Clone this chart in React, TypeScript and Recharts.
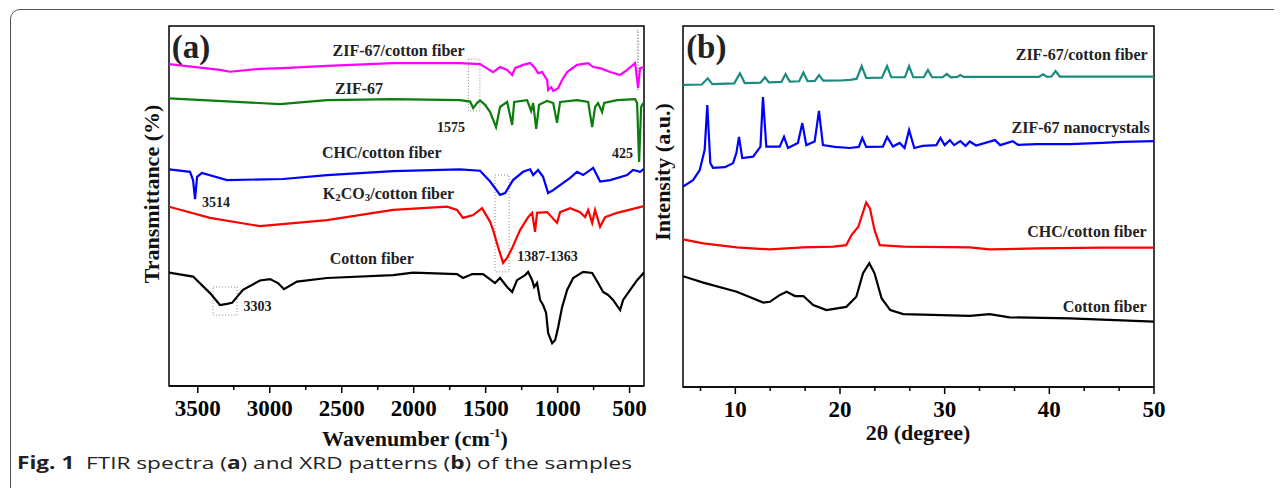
import React from "react";
import { LineChart, Line, XAxis, YAxis, ReferenceArea, ReferenceDot } from "recharts";

const SERIF = '"Liberation Serif", "Times New Roman", serif';

// FTIR spectra, [wavenumber cm-1, transmittance (a.u., offset per sample)]
const ftirZifCotton: [number, number][] = [
  [3700, 89.4], [3345, 87.8], [3276, 87.3], [3068, 88.1], [2908, 88.3], [2602, 88.9], [2143, 89.7],
  [1678, 89.7], [1539, 89.4], [1448, 87.2], [1400, 88.6], [1351, 87.8], [1316, 86.4], [1296, 88.3],
  [1240, 89.2], [1191, 89.7], [1157, 88.3], [1136, 86.9], [1108, 87.2], [1073, 85.0], [1066, 82.2],
  [1045, 83.0], [1030, 82.0], [1017, 82.2], [996, 82.8], [969, 85.0], [934, 87.2], [865, 89.2],
  [788, 89.7], [753, 88.6], [705, 88.3], [635, 87.2], [566, 86.4], [517, 87.8], [462, 89.7],
  [441, 82.8], [427, 88.3], [400, 88.6],
];
const ftirZif: [number, number][] = [
  [3700, 79.9], [2929, 78.3], [2602, 79.4], [2143, 79.7], [1678, 79.4], [1608, 79.0], [1587, 77.2],
  [1560, 78.6], [1539, 79.3], [1504, 78.1], [1469, 76.1], [1428, 71.9], [1400, 77.5], [1351, 78.9],
  [1316, 72.5], [1302, 78.9], [1212, 79.4], [1184, 76.4], [1170, 78.6], [1149, 71.4], [1129, 78.1],
  [1073, 79.2], [1031, 78.6], [1004, 73.1], [983, 78.9], [865, 79.4], [788, 78.9], [760, 71.9],
  [740, 77.5], [719, 78.6], [691, 76.1], [677, 78.6], [587, 79.4], [462, 79.7], [448, 78.6],
  [434, 62.2], [420, 77.5], [406, 78.6],
];
const ftirChc: [number, number][] = [
  [3700, 60.2], [3554, 59.5], [3533, 57.2], [3519, 51.9], [3505, 58.1], [3471, 59.2], [3297, 57.2],
  [2908, 57.5], [2602, 58.6], [2143, 59.7], [1678, 60.2], [1539, 59.8], [1469, 56.8], [1400, 53.1],
  [1365, 53.6], [1310, 57.2], [1240, 59.5], [1191, 60.2], [1170, 58.6], [1136, 60.0], [1101, 58.1],
  [1066, 53.6], [1031, 54.4], [983, 55.8], [913, 57.8], [865, 59.5], [823, 58.6], [753, 60.6],
  [705, 56.8], [635, 57.2], [517, 58.6], [476, 60.0], [427, 59.5], [400, 60.3],
];
const ftirK2co3: [number, number][] = [
  [3700, 49.8], [3415, 46.7], [3068, 44.4], [2602, 46.1], [2143, 48.9], [1768, 49.8], [1699, 48.9],
  [1657, 46.7], [1587, 47.5], [1525, 49.4], [1469, 45.6], [1448, 43.3], [1414, 38.6], [1379, 34.2],
  [1351, 35.6], [1316, 38.3], [1261, 43.3], [1205, 46.9], [1177, 48.1], [1157, 42.8], [1143, 48.1],
  [1073, 48.3], [1004, 45.3], [983, 48.3], [913, 49.4], [844, 48.3], [809, 46.9], [788, 48.9],
  [760, 45.3], [740, 48.9], [705, 44.2], [670, 46.9], [587, 48.1], [476, 49.2], [400, 50.0],
];
const ftirCotton: [number, number][] = [
  [3700, 31.5], [3533, 30.4], [3415, 25.8], [3346, 22.5], [3297, 22.8], [3262, 23.1], [3186, 26.7],
  [3068, 29.3], [2998, 29.7], [2943, 28.6], [2901, 26.9], [2811, 29.0], [2602, 30.0], [2143, 30.8],
  [2004, 31.5], [1699, 31.1], [1657, 30.0], [1594, 31.1], [1518, 31.1], [1435, 28.6], [1400, 30.0],
  [1351, 27.5], [1316, 26.1], [1282, 29.4], [1226, 30.8], [1205, 31.7], [1177, 29.4], [1163, 27.5],
  [1143, 28.6], [1122, 23.9], [1101, 22.5], [1080, 20.3], [1066, 14.7], [1038, 11.9], [1017, 12.8],
  [996, 16.4], [969, 21.9], [934, 26.7], [892, 30.0], [823, 31.7], [760, 31.4], [719, 28.6],
  [684, 26.1], [649, 25.3], [615, 23.9], [566, 21.1], [545, 23.9], [496, 26.7], [448, 29.4], [400, 31.5],
];

// XRD patterns, [2theta degree, intensity (a.u., offset per sample)]
const xrdZifCotton: [number, number][] = [
  [5, 83.7], [6.8, 83.8], [7.36, 85.5], [7.8, 83.9], [9.9, 84.1], [10.44, 86.9], [10.9, 84.2],
  [12.4, 84.3], [12.83, 85.8], [13.2, 84.4], [14.4, 84.5], [14.8, 86.7], [15.2, 84.6], [16.1, 84.7],
  [16.5, 87.1], [16.9, 84.7], [17.6, 84.8], [18.0, 86.4], [18.4, 84.85], [20, 84.9], [21.0, 85.1],
  [21.6, 85.4], [22.07, 88.9], [22.5, 85.6], [24.0, 85.7], [24.5, 88.9], [24.9, 85.8], [26.2, 85.8],
  [26.6, 88.9], [27.0, 85.8], [28.0, 85.8], [28.4, 87.8], [28.8, 85.8], [29.8, 85.8], [30.2, 86.7],
  [30.6, 85.8], [31.2, 85.9], [31.5, 86.4], [31.8, 85.9], [34, 85.9], [37, 85.9], [39.0, 85.9],
  [39.4, 86.6], [39.8, 85.9], [40.2, 86.0], [40.6, 87.5], [41.0, 86.0], [44, 86.0], [47, 86.0], [50, 86.0],
];
const xrdZif: [number, number][] = [
  [5.0, 55.5], [5.96, 57.3], [6.6, 60.1], [7.07, 65.7], [7.32, 78.1], [7.61, 62.0], [7.87, 60.7],
  [9.0, 60.9], [9.78, 62.0], [10.1, 64.8], [10.35, 69.3], [10.66, 63.4], [11.7, 63.8], [12.4, 66.6],
  [12.64, 80.3], [12.96, 66.6], [14.24, 66.6], [14.65, 69.3], [15.03, 66.2], [15.98, 67.6], [16.4, 73.1],
  [16.78, 67.0], [17.58, 68.0], [17.99, 76.5], [18.37, 67.0], [19.5, 66.5], [20.92, 66.2], [21.8, 66.5],
  [22.13, 69.0], [22.5, 66.5], [24.1, 66.6], [24.5, 69.3], [25.06, 66.6], [25.7, 67.6], [26.17, 66.2],
  [26.6, 71.2], [27.1, 66.2], [27.9, 66.8], [29.2, 67.0], [29.6, 69.0], [30.0, 67.0], [30.5, 68.4],
  [30.9, 67.0], [31.5, 68.1], [32.0, 66.8], [32.4, 68.0], [33.0, 66.9], [34.8, 68.4], [35.3, 67.0],
  [36.5, 68.1], [37.0, 67.1], [38.8, 67.3], [42.0, 67.3], [45.0, 67.6], [47.0, 67.9], [50.0, 68.1],
];
const xrdChc: [number, number][] = [
  [5.0, 40.9], [6.94, 39.8], [10.13, 38.7], [13.3, 38.1], [16.5, 38.7], [19.36, 38.9], [20.6, 39.3],
  [21.1, 42.1], [21.75, 44.4], [22.5, 51.1], [22.86, 49.5], [23.3, 43.5], [23.8, 39.3], [26.04, 38.9],
  [32.4, 38.7], [34.3, 38.1], [38.8, 38.4], [45.1, 38.6], [50.0, 38.6],
];
const xrdCotton: [number, number][] = [
  [5.0, 30.7], [6.94, 28.9], [10.13, 26.4], [12.67, 23.4], [13.3, 23.6], [14.26, 25.5], [14.9, 26.4],
  [15.7, 25.2], [16.5, 25.2], [17.44, 22.7], [18.7, 21.3], [20.6, 22.2], [21.56, 25.0], [22.2, 31.5],
  [22.8, 34.3], [23.3, 31.5], [23.97, 24.6], [24.8, 21.3], [26.04, 20.2], [32.4, 19.7], [34.3, 20.2],
  [36.2, 19.3], [41.96, 19.0], [50.0, 18.1],
];

const ftirTicks = [500, 750, 1000, 1250, 1500, 1750, 2000, 2250, 2500, 2750, 3000, 3250, 3500];
const xrdTicks = [6.67, 10, 13.33, 16.67, 20, 23.33, 26.67, 30, 33.33, 36.67, 40, 43.33, 46.67, 50];

const pts = (arr: [number, number][]) => arr.map(([x, y]) => ({ x, y }));

const makeTick = (isMajor: (v: number) => boolean) => (props: any) => {
  const { x, y, payload } = props;
  const major = isMajor(payload.value);
  return (
    <g>
      <line x1={x} x2={x} y1={y} y2={y + (major ? 7 : 4)} stroke="#000" strokeWidth={1.5} />
      {major && (
        <text x={x} y={y + 30} textAnchor="middle" fontFamily={SERIF} fontWeight="bold" fontSize={23} fill="#000">
          {payload.value}
        </text>
      )}
    </g>
  );
};

const note = (text: React.ReactNode, size = 16, anchor: "start" | "middle" | "end" = "middle") => (props: any) => {
  const vb = props.viewBox || {};
  return (
    <text
      x={vb.x}
      y={vb.y}
      textAnchor={anchor}
      dominantBaseline="central"
      fontFamily={SERIF}
      fontWeight="bold"
      fontSize={size}
      fill="#222"
    >
      {text}
    </text>
  );
};

const k2co3 = (
  <>
    <tspan>K</tspan>
    <tspan dy={4} fontSize={11}>2</tspan>
    <tspan dy={-4}>CO</tspan>
    <tspan dy={4} fontSize={11}>3</tspan>
    <tspan dy={-4}>/cotton fiber</tspan>
  </>
);

const lineProps = { dataKey: "y", dot: false, strokeWidth: 2.2, isAnimationActive: false, type: "linear" as const };
const dotted = { fill: "none", stroke: "#888", strokeWidth: 1, strokeDasharray: "1 2" };

const FtirChart = () => (
  <LineChart width={660} height={470} margin={{ top: 18, right: 24, bottom: 52, left: 161 }}>
    <XAxis
      type="number"
      dataKey="x"
      domain={[400, 3700]}
      reversed
      allowDataOverflow
      ticks={ftirTicks}
      interval={0}
      tickLine={false}
      tickSize={0}
      tickMargin={0}
      height={40}
      axisLine={{ stroke: "#000", strokeWidth: 1.5 }}
      tick={makeTick((v) => v % 500 === 0)}
    />
    <YAxis type="number" domain={[0, 100]} hide allowDataOverflow />
    <ReferenceArea x1={1620} x2={1540} y1={76.4} y2={90.8} {...dotted} />
    <ReferenceArea x1={446} x2={438} y1={82.2} y2={98.9} {...dotted} />
    <ReferenceArea x1={1435} x2={1337} y1={31.7} y2={58.6} {...dotted} />
    <ReferenceArea x1={3394} x2={3227} y1={19.7} y2={27.5} {...dotted} />
    <Line data={pts(ftirZifCotton)} stroke="#ff00ff" {...lineProps} />
    <Line data={pts(ftirZif)} stroke="#0a7d0a" {...lineProps} />
    <Line data={pts(ftirChc)} stroke="#0000ff" {...lineProps} />
    <Line data={pts(ftirK2co3)} stroke="#ff0000" {...lineProps} />
    <Line data={pts(ftirCotton)} stroke="#000" {...lineProps} />
    <ReferenceArea x1={400} x2={3700} y1={0} y2={100} fill="none" stroke="#000" strokeWidth={1.5} />
    <ReferenceDot x={3680} y={94.2} r={0.01} stroke="none" label={note("(a)", 33, "start")} />
    <ReferenceDot x={2105} y={93.3} r={0.01} stroke="none" label={note("ZIF-67/cotton fiber")} />
    <ReferenceDot x={2380} y={82.5} r={0.01} stroke="none" label={note("ZIF-67")} />
    <ReferenceDot x={1740} y={71.9} r={0.01} stroke="none" label={note("1575", 14)} />
    <ReferenceDot x={549} y={64.7} r={0.01} stroke="none" label={note("425", 14)} />
    <ReferenceDot x={2222} y={64.9} r={0.01} stroke="none" label={note("CHC/cotton fiber")} />
    <ReferenceDot x={3373} y={51.1} r={0.01} stroke="none" label={note("3514", 14)} />
    <ReferenceDot x={2175} y={53.6} r={0.01} stroke="none" label={note(k2co3)} />
    <ReferenceDot x={1070} y={36.1} r={0.01} stroke="none" label={note("1387-1363", 14)} />
    <ReferenceDot x={2291} y={35.3} r={0.01} stroke="none" label={note("Cotton fiber")} />
    <ReferenceDot x={3085} y={22.2} r={0.01} stroke="none" label={note("3303", 14)} />
  </LineChart>
);

const XrdChart = () => (
  <LineChart width={520} height={470} margin={{ top: 18, right: 39, bottom: 51, left: 10 }}>
    <XAxis
      type="number"
      dataKey="x"
      domain={[5, 50]}
      allowDataOverflow
      ticks={xrdTicks}
      interval={0}
      tickLine={false}
      tickSize={0}
      tickMargin={0}
      height={40}
      axisLine={{ stroke: "#000", strokeWidth: 1.5 }}
      tick={makeTick((v) => Number.isInteger(v) && v % 10 === 0)}
    />
    <YAxis type="number" domain={[0, 100]} hide allowDataOverflow />
    <Line data={pts(xrdZifCotton)} stroke="#1b8a7e" {...lineProps} />
    <Line data={pts(xrdZif)} stroke="#0000ff" {...lineProps} />
    <Line data={pts(xrdChc)} stroke="#ff0000" {...lineProps} />
    <Line data={pts(xrdCotton)} stroke="#000" {...lineProps} />
    <ReferenceArea x1={5} x2={50} y1={0} y2={100} fill="none" stroke="#000" strokeWidth={1.5} />
    <ReferenceDot x={5.3} y={94.2} r={0.01} stroke="none" label={note("(b)", 33, "start")} />
    <ReferenceDot x={49.4} y={92.2} r={0.01} stroke="none" label={note("ZIF-67/cotton fiber", 16, "end")} />
    <ReferenceDot x={49.6} y={72.0} r={0.01} stroke="none" label={note("ZIF-67 nanocrystals", 16, "end")} />
    <ReferenceDot x={49.3} y={43.2} r={0.01} stroke="none" label={note("CHC/cotton fiber", 16, "end")} />
    <ReferenceDot x={49.3} y={22.4} r={0.01} stroke="none" label={note("Cotton fiber", 16, "end")} />
  </LineChart>
);

const title: React.CSSProperties = {
  position: "absolute",
  fontFamily: SERIF,
  fontWeight: "bold",
  fontSize: 22,
  color: "#111",
  whiteSpace: "nowrap",
  lineHeight: 1,
};

export default function App() {
  return (
    <div style={{ position: "relative", width: 1274, height: 480, overflow: "hidden", background: "#fff" }}>
      <div
        style={{
          position: "absolute",
          left: 2,
          top: 1,
          width: 1320,
          height: 520,
          border: "1px solid #555",
          borderRadius: 10,
          boxSizing: "border-box",
        }}
      />
      <div style={{ position: "absolute", left: 0, top: 0 }}>
        <FtirChart />
      </div>
      <div style={{ position: "absolute", left: 665, top: 0 }}>
        <XrdChart />
      </div>
      <div style={{ ...title, left: 407, top: 431, transform: "translate(-50%, -50%)" }}>
        Wavenumber (cm<sup style={{ fontSize: 13, verticalAlign: "9px", lineHeight: 0 }}>-1</sup>)
      </div>
      <div style={{ ...title, left: 910, top: 425, transform: "translate(-50%, -50%)" }}>2θ (degree)</div>
      <div style={{ ...title, left: 144, top: 186, transform: "translate(-50%, -50%) rotate(-90deg)" }}>
        Transmittance (%)
      </div>
      <div style={{ ...title, left: 655, top: 164, transform: "translate(-50%, -50%) rotate(-90deg)" }}>
        Intensity (a.u.)
      </div>
      <div
        style={{
          position: "absolute",
          left: 9,
          top: 444,
          fontFamily: '"Open Sans", "Noto Sans", sans-serif',
          fontSize: 17,
          lineHeight: "22px",
          color: "#222",
          whiteSpace: "nowrap",
          transform: "scaleX(1.33)",
          transformOrigin: "left center",
        }}
      >
        <b>Fig. 1</b>&nbsp; FTIR spectra (<b>a</b>) and XRD patterns (<b>b</b>) of the samples
      </div>
    </div>
  );
}
